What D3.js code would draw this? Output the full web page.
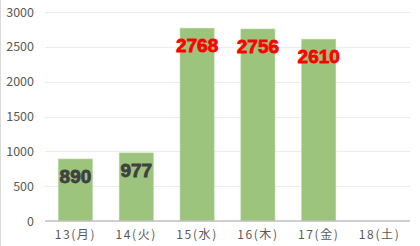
<!DOCTYPE html>
<html><head><meta charset="utf-8">
<script src="https://cdn.jsdelivr.net/npm/d3@7"></script>
<style>body{margin:0;background:#fff}svg{display:block}</style>
</head><body>
<script>
const categories = ["13(月)","14(火)","15(水)","16(木)","17(金)","18(土)"];
const values = [890, 977, 2768, 2756, 2610, null];
const labelColors = ["#404040","#404040","#ff0000","#ff0000","#ff0000","#404040"];
const yTicks = [0,500,1000,1500,2000,2500,3000];

const W = 420, H = 246;
const svg = d3.select("body").append("svg").attr("width", W).attr("height", H);
svg.append("line").attr("x1",0.5).attr("x2",0.5).attr("y1",0).attr("y2",H)
  .attr("stroke","#d9d9d9").attr("stroke-width",1);

const x = d3.scaleBand().domain(categories).range([45, 410]).paddingInner(0.44).paddingOuter(0.22);
const y = d3.scaleLinear().domain([0, 3000]).range([221, 12]);

// gridlines
svg.append("g").selectAll("line").data(yTicks.filter(t=>t>0)).join("line")
  .attr("x1",45).attr("x2",410).attr("y1",d=>Math.round(y(d))+0.5).attr("y2",d=>Math.round(y(d))+0.5)
  .attr("stroke","#ececec").attr("stroke-width",1);

// y labels
const yAxis = d3.axisLeft(y).tickValues(yTicks).tickFormat(d3.format("d")).tickSize(0).tickPadding(0);
const gy = svg.append("g").attr("transform","translate(34,0)").call(yAxis);
gy.select(".domain").remove();
gy.selectAll("text").attr("font-family","'Noto Sans CJK JP', sans-serif").attr("font-size",12.5).attr("fill","#595959");

// bars
const data = categories.map((c,i)=>({c, v: values[i], col: labelColors[i]})).filter(d=>d.v!=null);
svg.append("g").selectAll("rect").data(data).join("rect")
  .attr("x",d=>x(d.c)).attr("width",x.bandwidth())
  .attr("y",d=>y(d.v)).attr("height",d=>y(0)-y(d.v))
  .attr("fill","#9cc47c").attr("stroke","#b5d59c").attr("stroke-width",0.6);

// x axis
const xAxis = d3.axisBottom(x).tickSize(0).tickPadding(9);
const gx = svg.append("g").attr("transform","translate(0,221)").call(xAxis);
gx.select(".domain").attr("stroke","#bfbfbf").attr("stroke-width",1.5).attr("d","M45,0H410");
gx.selectAll("text").attr("font-family","'Noto Sans CJK JP', sans-serif").attr("font-size",12)
  .attr("letter-spacing","1.6px").attr("fill","#595959");

// data labels
svg.append("g").selectAll("text").data(data).join("text")
  .attr("x",d=>x(d.c)+x.bandwidth()/2).attr("y",d=>y(d.v)+17)
  .attr("dy","0.36em").attr("text-anchor","middle")
  .attr("font-family","'Liberation Sans', Arial, sans-serif").attr("font-weight","bold")
  .attr("font-size",19).attr("fill",d=>d.col)
  .attr("stroke",d=>d.col).attr("stroke-width",0.8)
  .text(d=>d.v);
</script>
</body></html>
